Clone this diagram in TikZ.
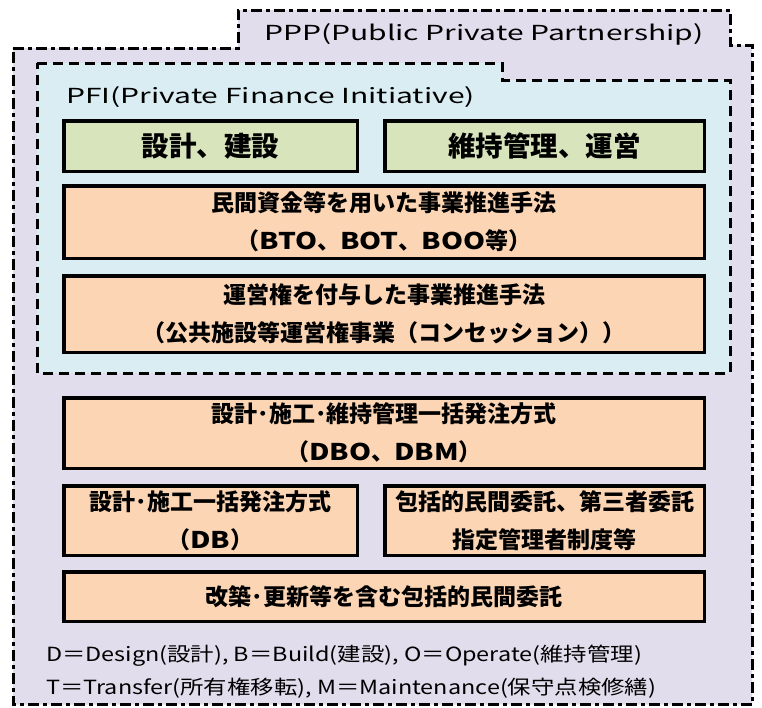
\documentclass[tikz,border=0pt]{standalone}
\usepackage{fontspec}
\setmainfont{Noto Sans CJK JP}
\newfontfamily\titlefont{Noto Sans CJK JP}[FakeStretch=1.45]
\newfontfamily\notefont{Noto Sans CJK JP}[FakeStretch=1.2]
\newfontfamily\latb{Noto Sans CJK JP}[FakeStretch=1.22]
\definecolor{pppfill}{RGB}{225,221,236}
\definecolor{pfifill}{RGB}{218,237,243}
\definecolor{greenfill}{RGB}{216,228,188}
\definecolor{orangefill}{RGB}{252,213,180}
\begin{document}
\begin{tikzpicture}[x=1pt,y=-1pt,
  pppline/.style={draw=black, line width=3pt, dash pattern=on 11pt off 4pt on 4pt off 4pt, fill=pppfill},
  pfiline/.style={draw=black, line width=3pt, dash pattern=on 10pt off 6pt, fill=pfifill},
  boxbase/.style={draw=black, line width=3.5pt, align=center, inner sep=0pt, text=black},
  gbox/.style={boxbase, fill=greenfill, font=\bfseries\fontsize{27.5}{30}\selectfont},
  obox/.style={boxbase, fill=orangefill, font=\bfseries\fontsize{23}{38}\selectfont},
  titletext/.style={anchor=west, inner sep=0pt, font=\titlefont\fontsize{20.7}{24}\selectfont},
  notetext/.style={anchor=west, inner sep=0pt, font=\notefont\fontsize{19.5}{24}\selectfont}
]
\useasboundingbox (0,0) rectangle (762,707);
% PPP outline
\path[pppline] (13,48) -- (238,48) -- (238,10) -- (730,10) -- (730,45) -- (752,45) -- (752,704.5) -- (13,704.5) -- cycle;
\node[titletext] (ppptitle) at (264,34) {PPP(Public Private Partnership)};
% PFI outline
\path[pfiline] (37,63) -- (502,63) -- (502,80) -- (730,80) -- (730,373) -- (37,373) -- cycle;
\node[titletext] (pfititle) at (66,97) {PFI(Private Finance Initiative)};
% boxes
\node[gbox, minimum width=293.5pt, minimum height=50.5pt] (g1) at (210.5,146) {設計、建設};
\node[gbox, minimum width=319.5pt, minimum height=50.5pt] (g2) at (544.5,146) {維持管理、運営};
\node[obox, minimum width=640.5pt, minimum height=72.5pt] (o1) at (384,222) {民間資金等を用いた事業推進手法\\（{\latb BTO}、{\latb BOT}、{\latb BOO}等）};
\node[obox, minimum width=640.5pt, minimum height=76.5pt] (o2) at (384,314) {運営権を付与した事業推進手法\\（公共施設等運営権事業（コンセッション））};
\node[obox, minimum width=640.5pt, minimum height=70.5pt] (b3) at (384,433) {設計･施工･維持管理一括発注方式\\（{\latb DBO}、{\latb DBM}）};
\node[obox, minimum width=293.5pt, minimum height=69.5pt] (b4) at (210.5,520.5) {設計･施工一括発注方式\\（{\latb DB}）};
\node[obox, minimum width=319.5pt, minimum height=69.5pt] (b5) at (544.5,520.5) {包括的民間委託、第三者委託\\指定管理者制度等};
\node[obox, minimum width=640.5pt, minimum height=49.5pt] (b6) at (384,596.5) {改築･更新等を含む包括的民間委託};
% notes
\node[notetext] (note1) at (46,656) {D＝Design(設計), B＝Build(建設), O＝Operate(維持管理)};
\node[notetext] (note2) at (46,688) {T＝Transfer(所有権移転), M＝Maintenance(保守点検修繕)};
\end{tikzpicture}
\end{document}
